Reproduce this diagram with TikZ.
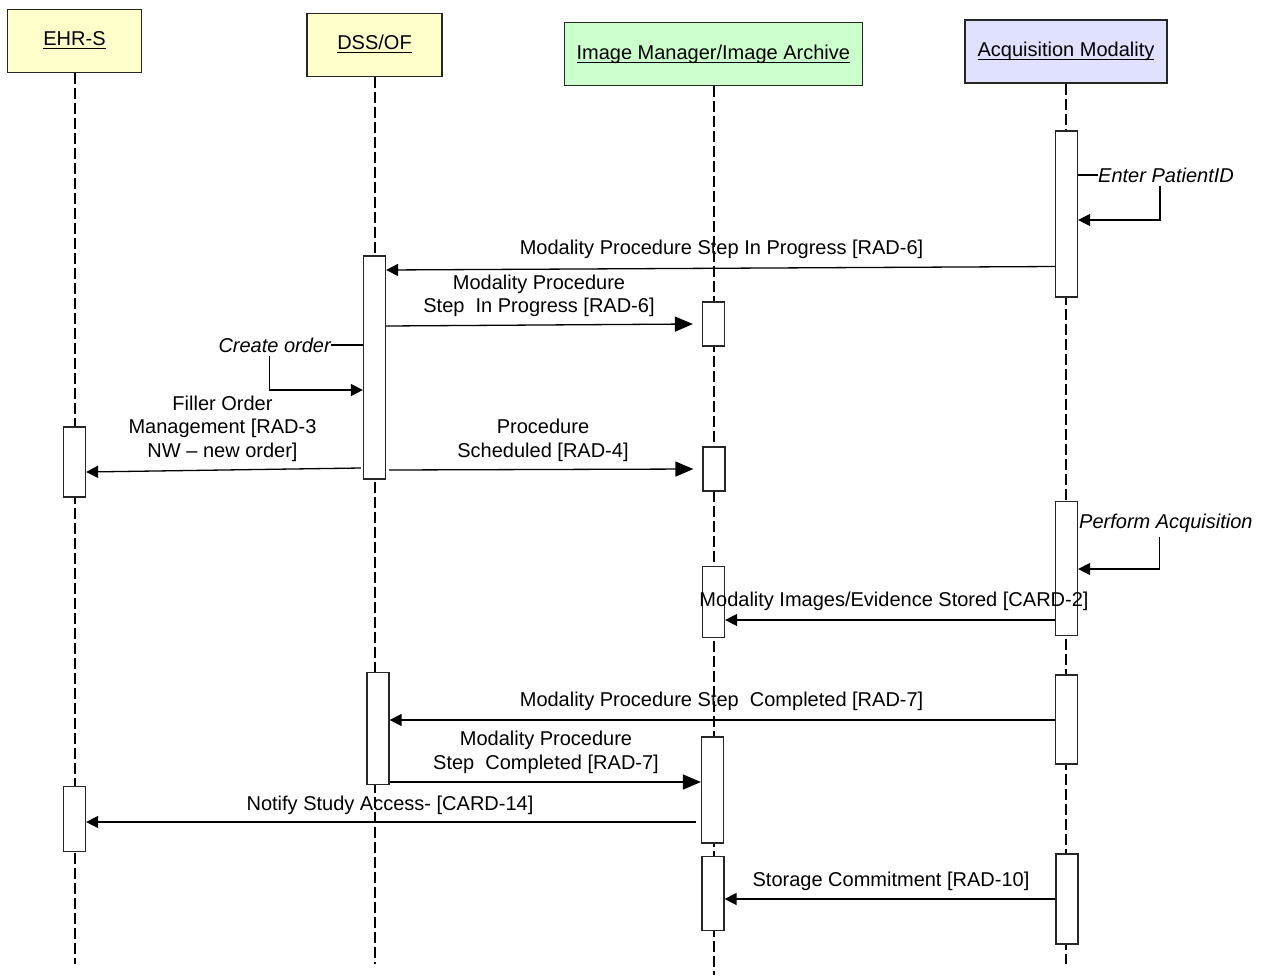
\documentclass[tikz,border=0pt]{standalone}
\usepackage{amsmath}
\usepackage{fontspec}
\setmainfont{Liberation Sans}
\usetikzlibrary{arrows.meta}
\newcommand{\hul}[1]{\underline{\smash[b]{#1}}}
\begin{document}
\begin{tikzpicture}[x=1pt,y=-1pt,
  font=\fontsize{20}{23.5}\selectfont,
  hdr/.style={draw=black!85, line width=1.2pt, minimum height=63pt, inner sep=0pt},
  life/.style={line width=2pt, dash pattern=on 11pt off 4pt},
  act/.style={draw=black!85, fill=white, line width=1.2pt, minimum width=22pt, inner sep=0pt},
  msg/.style={line width=1.3pt},
  bighead/.style={-{Triangle[length=18pt,width=15pt]}},
  smallhead/.style={-{Triangle[length=12pt,width=12pt]}},
  lbl/.style={align=center, inner sep=0pt},
  selflbl/.style={font=\fontsize{20}{23.5}\selectfont\itshape, inner sep=0pt}]
\useasboundingbox (0,0) rectangle (1266,975);
\definecolor{hyellow}{HTML}{FFFFCC}
\definecolor{hgreen}{HTML}{CCFFCC}
\definecolor{hblue}{HTML}{E0E0FF}
% headers
\node[hdr, fill=hyellow, minimum width=134pt] (ehr) at (74.5,40.8) {\hul{EHR-S}};
\node[hdr, fill=hyellow, minimum width=135pt] (dss) at (374.5,44.7) {\hul{DSS/OF}};
\node[hdr, fill=hgreen, minimum width=298pt] (im) at (713.3,54) {\hul{Image Manager/Image Archive}};
\node[hdr, fill=hblue, minimum width=202pt] (am) at (1066,51.4) {\hul{Acquisition Modality}};
% lifeline ends
\coordinate (ehrE) at (75,964);
\coordinate (dssE) at (374.7,964);
\coordinate (imE) at (713.6,975);
\coordinate (amE) at (1066,964);
\draw[life] (ehr.south -| ehrE) -- (ehrE);
\draw[life] (dss.south -| dssE) -- (dssE);
\draw[life] (im.south -| imE) -- (imE);
\draw[life] (am.south -| amE) -- (amE);
% activation boxes
\node[act, minimum height=166pt] (am1) at (1066.5,214) {};
\node[act, minimum height=223pt] (dss1) at (374.5,367.5) {};
\node[act, minimum height=44pt] (im1) at (713.5,324) {};
\node[act, minimum height=44pt] (im2) at (714,469) {};
\node[act, minimum height=70pt] (ehr1) at (74.5,462) {};
\node[act, minimum height=134pt] (am2) at (1066.5,568.7) {};
\node[act, minimum height=71pt] (im3) at (713.5,602.2) {};
\node[act, minimum height=112pt] (dss2) at (378,728.5) {};
\node[act, minimum height=89pt] (am3) at (1066.5,719.5) {};
\node[act, minimum height=106pt] (im4) at (712.5,790) {};
\node[act, minimum height=65pt] (ehr2) at (74.5,819.2) {};
\node[act, minimum height=74pt] (im5) at (713,893.7) {};
\node[act, minimum height=90pt] (am4) at (1067,899) {};
% Enter PatientID
\node[selflbl, anchor=west] (t1) at (1098,175) {Enter PatientID};
\draw[msg] (am1.east |- t1.west) -- (t1.west);
\draw[msg, smallhead] ([xshift=-6pt, yshift=-3pt]t1.south) |- (am1.east |- 0,220);
% RAD-6 to DSS
\node[lbl] (l2) at (721.5,249) {Modality Procedure Step In Progress [RAD-6]};
\draw[msg, smallhead] (am1.west |- 0,266.5) -- (dss1.east |- 0,270);
% RAD-6 to IM
\node[lbl] (l3) at (539,296) {Modality Procedure\\Step\ \ In Progress [RAD-6]};
\draw[msg, bighead] (dss1.east |- 0,326) -- ([xshift=-9pt]im1.west);
% Create order
\node[selflbl, anchor=east] (t2) at (331,345) {Create order};
\draw[msg] (t2.east) -- (dss1.west |- t2.east);
\draw[msg, smallhead] ([xshift=-5pt, yshift=-3pt]t2.south) |- (dss1.west |- 0,390);
% RAD-3
\node[lbl] (l5) at (222.5,428.5) {Filler Order\\Management [RAD-3\\NW -- new order]};
\draw[msg, smallhead] ([xshift=-2pt]dss1.west |- 0,468) -- (ehr1.east |- 0,472);
% RAD-4
\node[lbl] (l6) at (543,440.5) {Procedure\\Scheduled [RAD-4]};
\draw[msg, bighead] ([xshift=3pt]dss1.east |- 0,470) -- ([xshift=-9pt]im2.west);
% Perform Acquisition
\node[selflbl, anchor=west, fill=white, inner sep=1pt] (t3) at (1078,523) {Perform Acquisition};
\draw[msg, smallhead] ([xshift=-6.5pt, yshift=-3pt]t3.south) |- (am2.east |- 0,569);
% CARD-2
\node[lbl] (l8) at (894,601) {Modality Images/Evidence Stored [CARD-2]};
\draw[msg, smallhead] (am2.west |- 0,620) -- (im3.east |- 0,620);
% RAD-7 to DSS
\node[lbl] (l9) at (721.6,701.5) {Modality Procedure Step\ \ Completed [RAD-7]};
\draw[msg, smallhead] (am3.west |- 0,720) -- (dss2.east |- 0,720);
% RAD-7 to IM
\node[lbl] (l10) at (546,752.5) {Modality Procedure\\Step\ \ Completed [RAD-7]};
\draw[msg, bighead] (dss2.east |- 0,782) -- (im4.west |- 0,782);
% CARD-14
\node[lbl] (l11) at (390,805) {Notify Study Access- [CARD-14]};
\draw[msg, smallhead] ([xshift=-5pt]im4.west |- 0,822) -- (ehr2.east |- 0,822);
% RAD-10
\node[lbl] (l12) at (891,881.5) {Storage Commitment [RAD-10]};
\draw[msg, smallhead] (am4.west |- 0,899) -- (im5.east |- 0,899);
\end{tikzpicture}
\end{document}
